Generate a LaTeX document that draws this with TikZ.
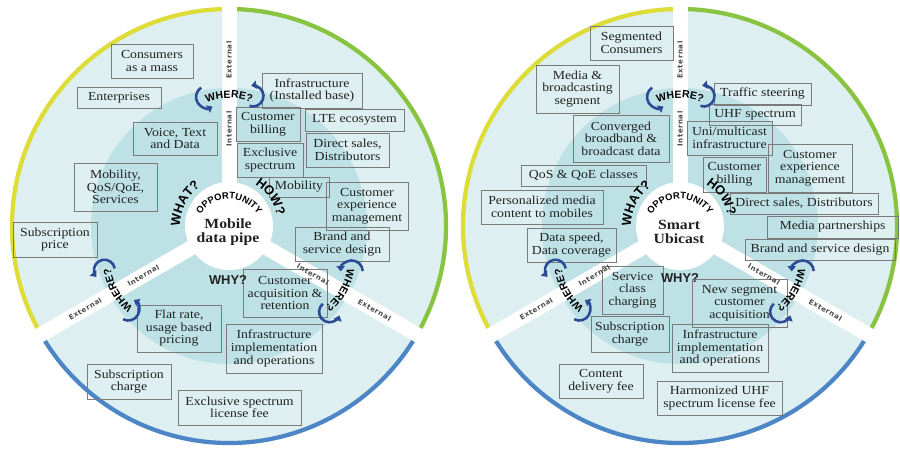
\documentclass[tikz,border=0pt]{standalone}
\usepackage{fontspec}
\setmainfont[FakeStretch=1.12]{Liberation Serif}
\newfontfamily\qfont{Liberation Sans}
\newfontfamily\labfont[LetterSpace=8]{DejaVu Sans}
\usetikzlibrary{decorations.text,arrows.meta}
\definecolor{outerc}{HTML}{DDEFF0}
\definecolor{innerc}{HTML}{BDE1E5}
\definecolor{ringY}{HTML}{DEDC36}
\definecolor{ringG}{HTML}{88C440}
\definecolor{ringB}{HTML}{4D86C6}
\definecolor{arrc}{HTML}{2C4A96}
\definecolor{boxline}{HTML}{7A7A7A}
\definecolor{labc}{HTML}{4A4A4A}
\definecolor{txtc}{HTML}{222222}
\tikzset{
  bx/.style={draw=boxline, line width=0.7pt, align=center, inner sep=1pt,
    font=\fontsize{10.5}{10.7}\selectfont, text=txtc},
  sz/.style 2 args={minimum width=#1*0.8536pt, minimum height=#2*0.8536pt},
  arr/.style={arrc, line width=2.2pt, -{Triangle[length=4.5pt,width=7pt]}},
  lab/.style={font=\labfont\bfseries\fontsize{6}{6}\selectfont, text=labc, inner sep=0pt},
  qlab/.style={font=\qfont\bfseries\fontsize{11}{11}\selectfont, text=txtc, inner sep=0pt},
  ctr/.style={font=\fontsize{12}{12.5}\selectfont\bfseries, align=center, text=txtc, inner sep=0pt},
}
\newcommand\wheregrp{%
  \path[decorate,shift={(0,68)},decoration={text along path,text align=center,
    text={|\qfont\bfseries\fontsize{9}{9}\selectfont|WHERE?}}]
    (116:60) arc[start angle=116,end angle=64,radius=60];
  \draw[arr,shift={(-22,129)}] (122:11) arc[start angle=122,end angle=300,radius=11];
  \draw[arr,shift={(24,130)}] (-110:10.5) arc[start angle=-110,end angle=100,radius=10.5];
}
\newcommand\wheelfg{%
  \wheregrp
  \begin{scope}[rotate=120]\wheregrp\end{scope}
  \begin{scope}[rotate=-120]\wheregrp\end{scope}
  \node[lab,rotate=90] at (90:97) {Internal};
  \node[lab,rotate=90] at (90:166) {External};
  \node[lab,rotate=30] at (210:99) {Internal};
  \node[lab,rotate=30] at (210:166) {External};
  \node[lab,rotate=-30] at (330:97) {Internal};
  \node[lab,rotate=-30] at (330:168) {External};
  \path[decorate,decoration={text along path,text align=center,
    text={|\qfont\bfseries\fontsize{11}{11}\selectfont|WHAT?}}]
    (192:49) arc[start angle=192,end angle=114,radius=49];
  \path[decorate,decoration={text along path,text align=center,
    text={|\qfont\bfseries\fontsize{11}{11}\selectfont|HOW?}}]
    (74:49) arc[start angle=74,end angle=-4,radius=49];
  \path[decorate,shift={(0,-7)},decoration={text along path,text align=center,
    text={|\qfont\bfseries\fontsize{8}{8}\selectfont|OPPORTUNITY}}]
    (158:34) arc[start angle=158,end angle=22,radius=34];
}
\begin{document}
\begin{tikzpicture}[x=0.03cm,y=0.03cm]
\useasboundingbox (0,0) rectangle (900,449);
% backgrounds
\foreach \cx in {229,680}{
\begin{scope}[shift={(\cx,223)}]
  \fill[outerc] (0,0) circle (219);
  \fill[innerc] (0,0) circle (138);
  \draw[ringG, line width=3.6pt] (-30:217) arc[start angle=-30,end angle=90,radius=217];
  \draw[ringY, line width=3.6pt] (90:217) arc[start angle=90,end angle=210,radius=217];
  \draw[ringB, line width=3.6pt] (210:217) arc[start angle=210,end angle=330,radius=217];
  \foreach \a in {90,210,330} \draw[white, line width=12.8pt] (0,0) -- (\a:226);
  \fill[white] (0,0) circle (44);
\end{scope}}
% left wheel boxes
\node[bx,sz={82}{34}] (a1) at (152,388) {Consumers\\as a mass};
\node[bx,sz={84}{21}] (a2) at (119,351.5) {Enterprises};
\node[bx,sz={84}{33}] (a3) at (175,310.5) {Voice, Text\\and Data};
\node[bx,sz={83}{48}] (a4) at (115.5,262) {Mobility,\\QoS/QoE,\\Services};
\node[bx,sz={100}{35}] (a5) at (312,358.5) {Infrastructure\\(Installed base)};
\node[bx,sz={64}{34}] (a6) at (268,325) {Customer\\billing};
\node[bx,sz={99}{22}] (a7) at (354.5,329) {LTE ecosystem};
\node[bx,sz={83}{34}] (a8) at (347.5,299) {Direct sales,\\Distributors};
\node[bx,sz={66}{34}] (a9) at (270,289) {Exclusive\\spectrum};
\node[bx,sz={60}{20}] (a10) at (299,262) {Mobility};
\node[bx,sz={82}{48}] (a11) at (367,243) {Customer\\experience\\management};
\node[bx,sz={84}{35}] (a12) at (55,209.5) {Subscription\\price};
\node[bx,sz={94}{34}] (a13) at (342,205) {Brand and\\service design};
\node[bx,sz={84}{48}] (a14) at (285,156) {Customer\\acquisition \&\\retention};
\node[bx,sz={84}{47}] (a15) at (179,120.5) {Flat rate,\\usage based\\pricing};
\node[bx,sz={96}{49}] (a16) at (274,100.5) {Infrastructure\\implementation\\and operations};
\node[bx,sz={84}{35}] (a17) at (129,67.5) {Subscription\\charge};
\node[bx,sz={123}{35}] (a18) at (239.5,41.5) {Exclusive spectrum\\license fee};
% right wheel boxes
\node[bx,sz={83}{34}] (b1) at (631.5,406) {Segmented\\Consumers};
\node[bx,sz={83}{48}] (b2) at (577.5,360) {Media \&\\broadcasting\\segment};
\node[bx,sz={96}{47}] (b3) at (621,310.5) {Converged\\broadband \&\\broadcast data};
\node[bx,sz={125}{21}] (b4) at (583.5,273.5) {QoS \& QoE classes};
\node[bx,sz={122}{34}] (b5) at (542,242) {Personalized media\\content to mobiles};
\node[bx,sz={97}{22}] (b6) at (762.5,355) {Traffic steering};
\node[bx,sz={92}{21}] (b7) at (755,334.5) {UHF spectrum};
\node[bx,sz={85}{34}] (b8) at (729.5,311) {Uni/multicast\\infrastructure};
\node[bx,sz={84}{48}] (b9) at (810,281) {Customer\\experience\\management};
\node[bx,sz={63}{35}] (b10) at (734.5,274.5) {Customer\\billing};
\node[bx,sz={148}{21}] (b11) at (804,245.5) {Direct sales, Distributors};
\node[bx,sz={131}{22}] (b12) at (832.5,222) {Media partnerships};
\node[bx,sz={89}{34}] (b13) at (571.5,204) {Data speed,\\Data coverage};
\node[bx,sz={150}{21}] (b14) at (820,199.5) {Brand and service design};
\node[bx,sz={61}{48}] (b15) at (632.5,159) {Service\\class\\charging};
\node[bx,sz={95}{48}] (b16) at (739.5,146) {New segment\\customer\\acquisition};
\node[bx,sz={78}{36}] (b17) at (630,115) {Subscription\\charge};
\node[bx,sz={96}{48}] (b18) at (720,101) {Infrastructure\\implementation\\and operations};
\node[bx,sz={84}{34}] (b19) at (601,68) {Content\\delivery fee};
\node[bx,sz={125}{34}] (b20) at (719.5,51) {Harmonized UHF\\spectrum license fee};
% labels
\begin{scope}[shift={(229,223)}]
  \wheelfg
  \node[qlab] (whyL) at (-1,-54) {WHY?};
  \node[ctr] (cL) at (-1,-6) {Mobile\\data pipe};
\end{scope}
\begin{scope}[shift={(680,223)}]
  \wheelfg
  \node[qlab] (whyR) at (0,-52) {WHY?};
  \node[ctr] (cR) at (-1,-6) {Smart\\Ubicast};
\end{scope}
\end{tikzpicture}
\end{document}
